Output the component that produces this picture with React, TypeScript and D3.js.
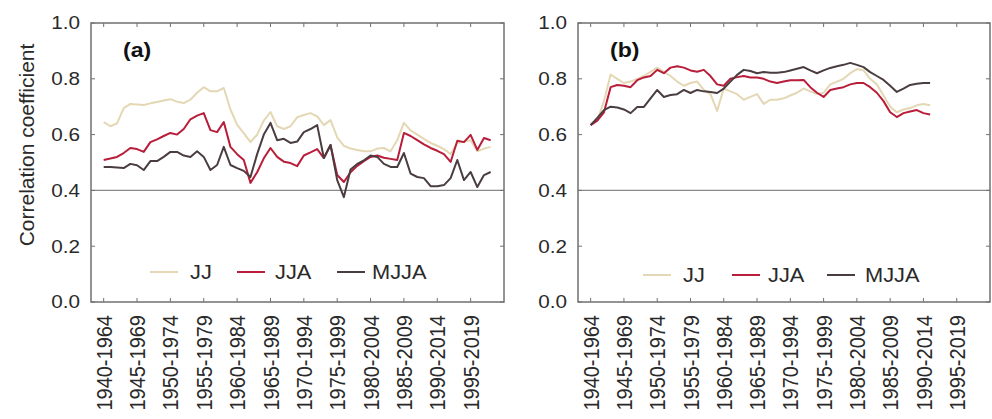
import React from "react";
import * as d3 from "d3";

// window start years run 1940 onward, one value per year
const tickLabels = [
  "1940-1964", "1945-1969", "1950-1974", "1955-1979", "1960-1984", "1965-1989",
  "1970-1994", "1975-1999", "1980-2004", "1985-2009", "1990-2014", "1995-2019",
];
const tickYears = [1940, 1945, 1950, 1955, 1960, 1965, 1970, 1975, 1980, 1985, 1990, 1995];
const yTicks = [0, 0.2, 0.4, 0.6, 0.8, 1.0];

// panel (a)
const jjA = [
  0.645, 0.63, 0.64, 0.695, 0.71, 0.708, 0.706, 0.712, 0.717, 0.722,
  0.727, 0.718, 0.713, 0.725, 0.75, 0.77, 0.755, 0.755, 0.767, 0.69,
  0.635, 0.605, 0.573, 0.6, 0.65, 0.681, 0.63, 0.62, 0.63, 0.662,
  0.67, 0.677, 0.665, 0.634, 0.652, 0.59, 0.56, 0.55, 0.545, 0.54,
  0.54, 0.55, 0.552, 0.54, 0.58, 0.642, 0.615, 0.6, 0.585, 0.57,
  0.56, 0.548, 0.53, 0.57, 0.575, 0.58, 0.54, 0.55, 0.556,
];
const jjaA = [
  0.509, 0.514, 0.52, 0.534, 0.552, 0.548, 0.538, 0.573, 0.583, 0.595,
  0.606, 0.6, 0.62, 0.655, 0.668, 0.677, 0.616, 0.609, 0.645, 0.556,
  0.53, 0.509, 0.427, 0.465, 0.515, 0.552, 0.52, 0.503, 0.498, 0.487,
  0.525, 0.536, 0.548, 0.516, 0.563, 0.455, 0.43, 0.465, 0.488, 0.505,
  0.52, 0.525, 0.517, 0.513, 0.509, 0.606, 0.595, 0.58, 0.565, 0.552,
  0.542, 0.53, 0.502, 0.578, 0.573, 0.599, 0.545, 0.588, 0.58,
];
const mjjaA = [
  0.484, 0.484, 0.482, 0.48, 0.495, 0.49, 0.473, 0.505, 0.505, 0.52,
  0.538, 0.538, 0.525, 0.52, 0.54, 0.52, 0.473, 0.491, 0.556, 0.491,
  0.48, 0.47, 0.448, 0.53, 0.6, 0.642, 0.58, 0.585, 0.57, 0.575,
  0.609, 0.62, 0.634, 0.516, 0.563, 0.437, 0.376, 0.475, 0.495, 0.508,
  0.525, 0.52, 0.495, 0.484, 0.484, 0.534, 0.46, 0.448, 0.444, 0.415,
  0.415, 0.419, 0.444, 0.509, 0.437, 0.466, 0.412, 0.455, 0.466,
];

// panel (b)
const jjB = [
  0.64, 0.65, 0.72, 0.815, 0.8, 0.785, 0.79, 0.8, 0.81, 0.825,
  0.84, 0.825, 0.81, 0.79, 0.775, 0.785, 0.79, 0.76, 0.745, 0.685,
  0.765, 0.755, 0.745, 0.725, 0.735, 0.745, 0.71, 0.725, 0.725, 0.73,
  0.74, 0.75, 0.765, 0.755, 0.745, 0.75, 0.78, 0.79, 0.8, 0.82,
  0.835, 0.83, 0.8, 0.78, 0.74, 0.7, 0.68, 0.69, 0.695, 0.705,
  0.71, 0.705,
];
const jjaB = [
  0.634, 0.65, 0.68, 0.77, 0.778, 0.775, 0.77, 0.795, 0.805, 0.81,
  0.832, 0.82, 0.84, 0.845, 0.84, 0.83, 0.825, 0.832, 0.81, 0.78,
  0.775, 0.8, 0.806, 0.81, 0.805, 0.805, 0.8, 0.79, 0.785, 0.79,
  0.795, 0.795, 0.796, 0.77, 0.75, 0.735, 0.76, 0.765, 0.77, 0.78,
  0.785, 0.785, 0.77, 0.75, 0.72, 0.68, 0.663, 0.677, 0.683, 0.688,
  0.677, 0.672,
];
const mjjaB = [
  0.634, 0.66, 0.688, 0.7, 0.697, 0.69, 0.677, 0.699, 0.699, 0.73,
  0.76, 0.735, 0.742, 0.745, 0.76, 0.749, 0.76, 0.755, 0.753, 0.749,
  0.765, 0.79, 0.814, 0.832, 0.828, 0.82, 0.824, 0.822, 0.822, 0.824,
  0.83, 0.836, 0.842, 0.83, 0.82, 0.83, 0.839, 0.845, 0.85, 0.857,
  0.85, 0.842, 0.824, 0.81, 0.796, 0.775, 0.753, 0.765, 0.778, 0.782,
  0.785, 0.785,
];

const seriesNames = ["JJ", "JJA", "MJJA"];
const colors: Record<string, string> = { JJ: "#e4d7b4", JJA: "#b81d3a", MJJA: "#4a3d3f" };

const font = "'Liberation Sans', Arial, sans-serif";
const txt = "#2a2a2a";
const top = 23;
const bottom = 302;

interface PanelProps {
  left: number;
  right: number;
  tag: string;
  series: number[][];
  legendY: number;
  legendLines: number[];
  legendTexts: number[];
  showYLabel: boolean;
}

function Panel(props: PanelProps) {
  const { left, right, tag, series, legendY, legendLines, legendTexts } = props;
  const x = d3.scaleLinear().domain([1938.1, 2000]).range([left, right]);
  const y = d3.scaleLinear().domain([0, 1]).range([bottom, top]);
  const line = d3
    .line<number>()
    .x((_d, i) => x(1940 + i))
    .y((d) => y(d));

  return (
    <g>
      {/* 0.4 reference line */}
      <line x1={left} x2={right} y1={y(0.4)} y2={y(0.4)} stroke="#8a8a8a" strokeWidth={1.2} />
      {series.map((s, i) => (
        <path
          key={seriesNames[i]}
          d={line(s) ?? ""}
          fill="none"
          stroke={colors[seriesNames[i]]}
          strokeWidth={2}
          strokeLinejoin="round"
        />
      ))}
      <rect x={left} y={top} width={right - left} height={bottom - top} fill="none" stroke="#707070" strokeWidth={1.5} />
      {yTicks.map((t) => (
        <g key={t}>
          <line x1={left} x2={left + 4} y1={y(t)} y2={y(t)} stroke="#707070" />
          <line x1={right - 4} x2={right} y1={y(t)} y2={y(t)} stroke="#707070" />
          <text
            transform={`translate(${left - 11},${y(t)}) scale(1.15,1)`}
            textAnchor="end"
            dy="0.36em"
            fontSize={18}
            fontFamily={font}
            fill={txt}
          >
            {t.toFixed(1)}
          </text>
        </g>
      ))}
      {tickYears.map((yr, i) => (
        <g key={yr}>
          <line x1={x(yr)} x2={x(yr)} y1={bottom} y2={bottom - 4} stroke="#707070" />
          <line x1={x(yr)} x2={x(yr)} y1={top} y2={top + 4} stroke="#707070" />
          <text
            transform={`translate(${x(yr)},${bottom + 13}) scale(1.12,1) rotate(-90)`}
            textAnchor="end"
            dy="0.36em"
            fontSize={20}
            fontFamily={font}
            fill={txt}
          >
            {tickLabels[i]}
          </text>
        </g>
      ))}
      <text
        transform={`translate(${left + 32},57) scale(1.1,1)`}
        fontSize={21}
        fontWeight="bold"
        fontFamily={font}
        fill="#111"
      >
        {tag}
      </text>
      {seriesNames.map((n, i) => (
        <g key={n}>
          <line
            x1={left + legendLines[i]}
            x2={left + legendLines[i] + 28}
            y1={legendY}
            y2={legendY}
            stroke={colors[n]}
            strokeWidth={2}
          />
          <text
            transform={`translate(${left + legendTexts[i]},${legendY}) scale(1.12,1)`}
            dy="0.36em"
            fontSize={19.5}
            fontFamily={font}
            fill={txt}
          >
            {n}
          </text>
        </g>
      ))}
    </g>
  );
}

export default function App() {
  return (
    <svg
      width={992}
      height={419}
      style={{ position: "absolute", left: 0, top: 0, background: "#fff" }}
    >
      <text
        transform="translate(26,145) rotate(-90)"
        textAnchor="middle"
        dy="0.36em"
        fontSize={21}
        fontFamily={font}
        fill={txt}
      >
        Correlation coefficient
      </text>
      <Panel
        left={91}
        right={504}
        tag="(a)"
        series={[jjA, jjaA, mjjaA]}
        legendY={272}
        legendLines={[59, 146, 246]}
        legendTexts={[99, 184, 281]}
        showYLabel
      />
      <Panel
        left={578}
        right={990}
        tag="(b)"
        series={[jjB, jjaB, mjjaB]}
        legendY={275}
        legendLines={[65, 154, 249]}
        legendTexts={[105, 190, 287]}
        showYLabel={false}
      />
    </svg>
  );
}
